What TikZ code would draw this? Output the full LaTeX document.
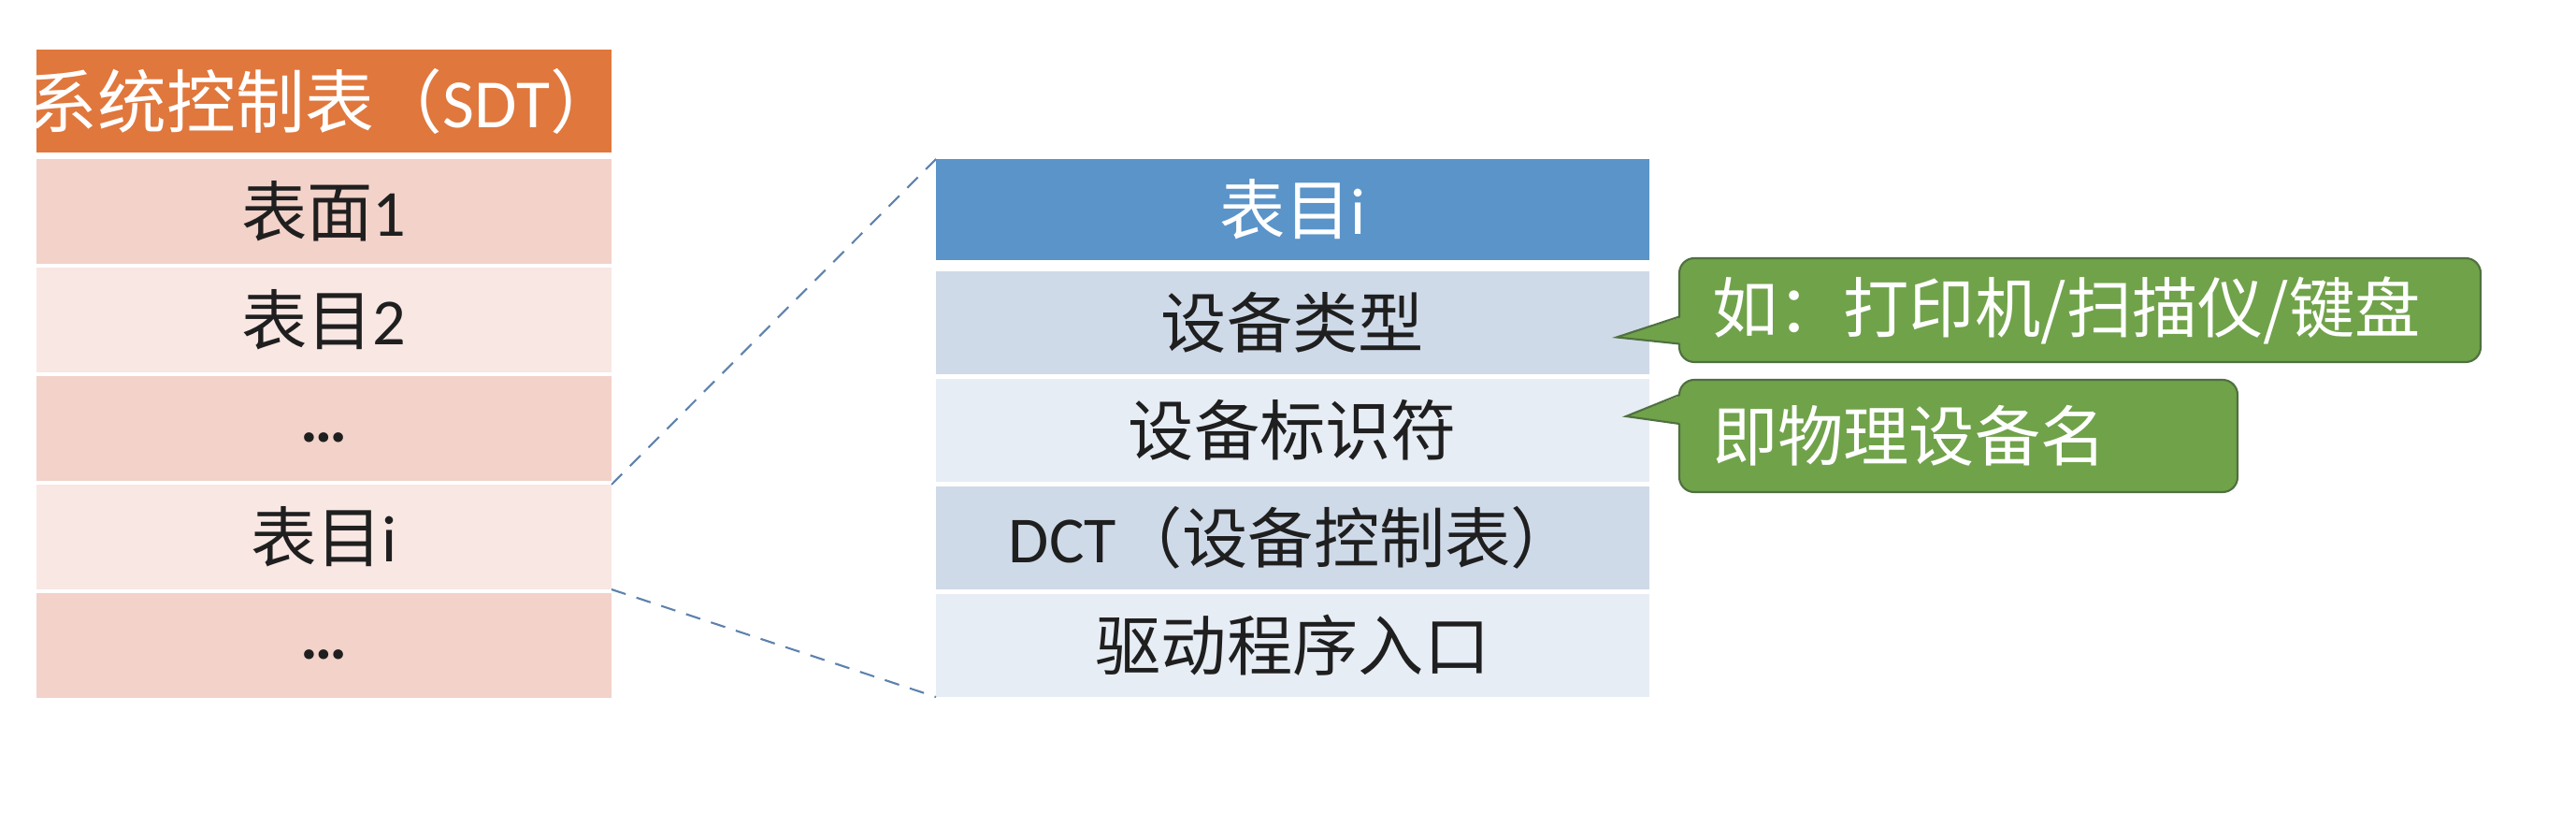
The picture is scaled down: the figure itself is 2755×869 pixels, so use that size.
\documentclass[tikz,border=0pt]{standalone}
\usepackage{fontspec}
\setmainfont{Carlito}
\newfontfamily\cjk{Noto Sans CJK SC}
\usetikzlibrary{positioning,calc}

\definecolor{sdtorange}{HTML}{E0773D}
\definecolor{sdtpink}{HTML}{F2D2C9}
\definecolor{sdtpale}{HTML}{F8E7E3}
\definecolor{dctblue}{HTML}{5A94C9}
\definecolor{dctgrey}{HTML}{CFDAE9}
\definecolor{dctpale}{HTML}{E7EDF5}
\definecolor{notegreen}{HTML}{70A24A}
\definecolor{noteedge}{HTML}{4F7040}
\definecolor{zoomblue}{HTML}{5E82AD}

\newcommand\moredots{\smash{\raisebox{-0.2em}{\bfseries …}}}

\tikzset{
	cell/.style={inner sep=0pt, outer sep=0pt, text=black!88, font=\fontsize{20}{24}\selectfont},
	sdtcell/.style={cell, minimum width=61.5mm, minimum height=11.2mm},
	sdthead/.style={sdtcell, fill=sdtorange, minimum height=11mm, text=white, font=\fontsize{21}{24}\selectfont},
	sdtrowa/.style={sdtcell, fill=sdtpink},
	sdtrowb/.style={sdtcell, fill=sdtpale},
	dctcell/.style={cell, minimum width=76.3mm, minimum height=11mm},
	dcthead/.style={dctcell, fill=dctblue, minimum height=10.8mm, text=white},
	dctrowa/.style={dctcell, fill=dctgrey},
	dctrowb/.style={dctcell, fill=dctpale},
	note/.style={cell, fill=notegreen, draw=noteedge, line width=0.6pt, rounded corners=1.6mm,
		text=white, align=left, inner xsep=3.5mm},
	zoomline/.style={zoomblue, dashed, dash pattern=on 1.6mm off 1.2mm, line width=0.6pt}
}

\begin{document}
\begin{tikzpicture}[x=0.1mm, y=-0.1mm]
	\useasboundingbox (0,0) rectangle (2755,869);

	\node[sdthead, anchor=north west] (sdt) at (39,53) {\makebox[61.5mm]{{\cjk 系统控制表（}SDT{\cjk ）}}};
	\node[sdtrowa, below=0.7mm of sdt] (s1) {{\cjk 表面}1};
	\node[sdtrowb, below=0.4mm of s1] (s2) {{\cjk 表目}2};
	\node[sdtrowa, below=0.4mm of s2] (s3) {\moredots};
	\node[sdtrowb, below=0.4mm of s3] (si) {{\cjk 表目}i};
	\node[sdtrowa, below=0.4mm of si] (s5) {\moredots};

	\node[dcthead, anchor=north west] (dct) at (1001,170) {{\cjk 表目}i};
	\node[dctrowa, below=1.2mm of dct] (d1) {\cjk 设备类型};
	\node[dctrowb, below=0.5mm of d1] (d2) {\cjk 设备标识符};
	\node[dctrowa, below=0.5mm of d2] (d3) {DCT{\cjk （设备控制表）}};
	\node[dctrowb, below=0.5mm of d3] (d4) {\cjk 驱动程序入口};

	\draw[zoomline] (si.north east) -- (dct.north west);
	\draw[zoomline] (si.south east) -- (d4.south west);

	\node[note, anchor=north west, minimum height=11.1mm, text width=78.7mm] (n1) at (1796,276)
		{\cjk 如：打印机/扫描仪/键盘};
	\node[note, anchor=north west, minimum height=12mm, text width=52.7mm] (n2) at (1796,406)
		{\cjk 即物理设备名};

	\coordinate (t1) at ($(n1.west)+(-67,29)$);
	\fill[notegreen] ($(n1.west)+(4,7)$) -- (t1) -- ($(n1.west)+(4,36)$) -- cycle;
	\draw[noteedge, line width=0.6pt] ($(n1.west)+(0,7)$) -- (t1) -- ($(n1.west)+(0,36)$);

	\coordinate (t2) at ($(n2.west)+(-57,-21)$);
	\fill[notegreen] ($(n2.west)+(4,-44)$) -- (t2) -- ($(n2.west)+(4,-13)$) -- cycle;
	\draw[noteedge, line width=0.6pt] ($(n2.west)+(0,-44)$) -- (t2) -- ($(n2.west)+(0,-13)$);
\end{tikzpicture}
\end{document}
